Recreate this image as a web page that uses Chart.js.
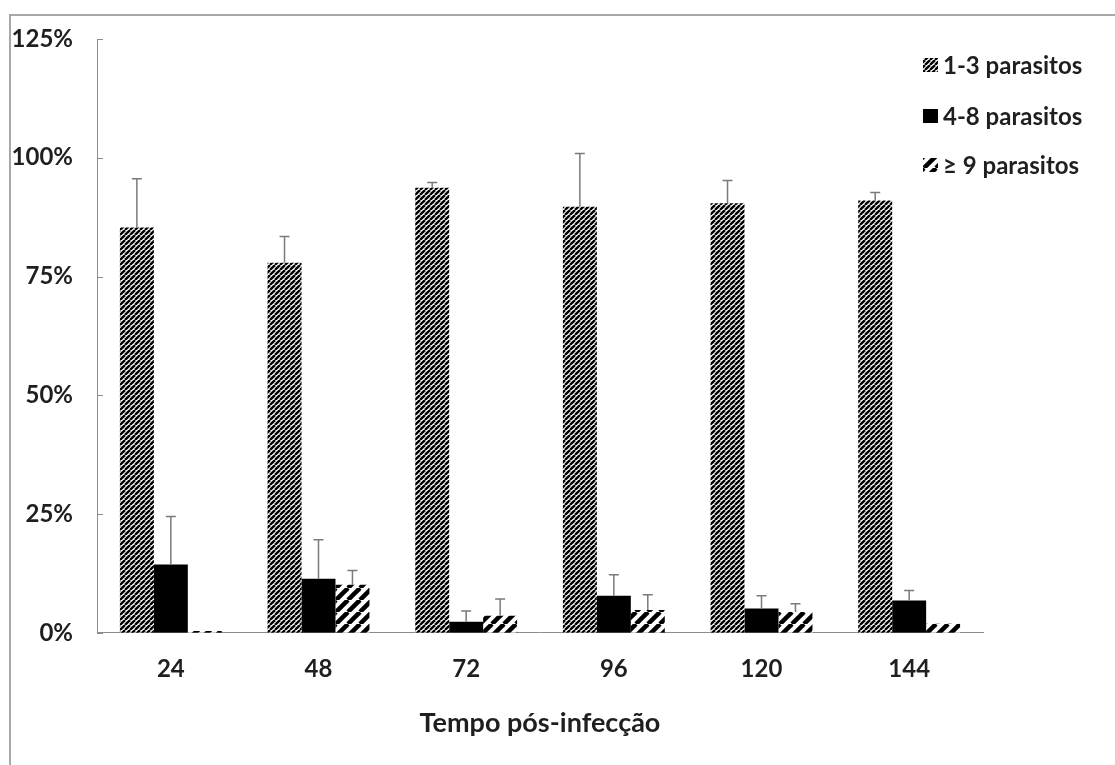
<!DOCTYPE html>
<html>
<head>
<meta charset="utf-8">
<script src="https://cdn.jsdelivr.net/npm/chart.js@4"></script>
<style>
  html, body { margin: 0; padding: 0; background: #fff; }
  #wrap { width: 1115px; height: 765px; position: relative; }
</style>
</head>
<body>
<div id="wrap"><canvas id="chart" width="1115" height="765"></canvas></div>
<script>
const hours = ['24', '48', '72', '96', '120', '144'];
const seriesLabels = ['1-3 parasitos', '4-8 parasitos', '\u2265 9 parasitos'];
const low = [85.3, 77.9, 93.7, 89.7, 90.4, 91.0];
const mid = [14.4, 11.4, 2.3, 7.8, 5.1, 6.8];
const high = [0.4, 10.1, 3.6, 4.8, 4.4, 1.9];
const lowErr = [10.3, 5.5, 1.1, 11.2, 4.8, 1.7];
const midErr = [10.1, 8.2, 2.3, 4.4, 2.7, 2.1];
const highErr = [0, 3.0, 3.5, 3.2, 1.7, 0];
const yTicks = [0, 25, 50, 75, 100, 125];

const FONT = 'Lato, "Open Sans", sans-serif';
const TEXT = '#1f1f1f';
const AXIS = '#8c8c8c';

function hatch(size, width) {
    const c = document.createElement('canvas');
    c.width = size;
    c.height = size;
    const g = c.getContext('2d');
    g.fillStyle = '#fff';
    g.fillRect(0, 0, size, size);
    g.strokeStyle = '#000';
    g.lineWidth = width;
    for (let k = -1; k <= 1; k++) {
        g.beginPath();
        g.moveTo(k * size, size);
        g.lineTo(k * size + size, 0);
        g.stroke();
    }
    return document.createElement('canvas').getContext('2d').createPattern(c, 'repeat');
}

const densePattern = hatch(5, 2.4);
const widePattern = hatch(12, 4.5);

const errors = [lowErr, midErr, highErr];

const frame = {
    id: 'frame',
    beforeDraw(chart) {
        const ctx = chart.ctx;
        ctx.save();
        ctx.strokeStyle = '#a8a8a8';
        ctx.lineWidth = 2;
        ctx.beginPath();
        ctx.moveTo(10, 765);
        ctx.lineTo(10, 15);
        ctx.lineTo(1115, 15);
        ctx.stroke();
        ctx.restore();
    }
};

const yTickMarks = {
    id: 'yTickMarks',
    afterDraw(chart) {
        const ctx = chart.ctx;
        const y = chart.scales.y;
        const left = chart.chartArea.left;
        ctx.save();
        ctx.strokeStyle = AXIS;
        ctx.lineWidth = 1;
        yTicks.forEach(v => {
            const py = Math.round(y.getPixelForValue(v)) + 0.5;
            ctx.beginPath();
            ctx.moveTo(left, py);
            ctx.lineTo(left + 6, py);
            ctx.stroke();
        });
        ctx.restore();
    }
};

const errorBars = {
    id: 'errorBars',
    afterDatasetsDraw(chart) {
        const ctx = chart.ctx;
        const y = chart.scales.y;
        ctx.save();
        ctx.strokeStyle = '#7a7a7a';
        ctx.lineWidth = 1.5;
        chart.data.datasets.forEach((ds, i) => {
            const meta = chart.getDatasetMeta(i);
            meta.data.forEach((bar, j) => {
                const e = errors[i][j];
                if (!e) return;
                const top = y.getPixelForValue(ds.data[j] + e);
                ctx.beginPath();
                ctx.moveTo(bar.x, bar.y);
                ctx.lineTo(bar.x, top);
                ctx.moveTo(bar.x - 5, top);
                ctx.lineTo(bar.x + 5, top);
                ctx.stroke();
            });
        });
        ctx.restore();
    }
};

const sideLegend = {
    id: 'sideLegend',
    afterDraw(chart) {
        const ctx = chart.ctx;
        const rows = [65, 116, 165];
        ctx.save();
        ctx.font = 'bold 24px ' + FONT;
        ctx.textBaseline = 'middle';
        ctx.fillStyle = TEXT;
        chart.data.datasets.forEach((ds, i) => {
            ctx.fillStyle = ds.backgroundColor;
            ctx.fillRect(923, rows[i] - 7, 15, 14);
            ctx.fillStyle = TEXT;
            ctx.fillText(ds.label, 943, rows[i] + 1);
        });
        ctx.restore();
    }
};

new Chart(document.getElementById('chart'), {
    type: 'bar',
    data: {
        labels: hours,
        datasets: [
            { label: seriesLabels[0], data: low, backgroundColor: densePattern },
            { label: seriesLabels[1], data: mid, backgroundColor: '#000' },
            { label: seriesLabels[2], data: high, backgroundColor: widePattern }
        ]
    },
    options: {
        responsive: false,
        animation: false,
        devicePixelRatio: 1,
        layout: { padding: { top: 39, right: 132, bottom: 26, left: 0 } },
        datasets: {
            bar: { categoryPercentage: 0.69, barPercentage: 1.0, borderWidth: 0 }
        },
        plugins: {
            legend: { display: false },
            tooltip: { enabled: false }
        },
        scales: {
            x: {
                grid: { display: false },
                border: { display: true, color: AXIS, width: 1 },
                ticks: {
                    padding: 14,
                    color: TEXT,
                    font: { family: FONT, size: 24, weight: 'bold' }
                },
                title: {
                    display: true,
                    text: 'Tempo pós-infecção',
                    color: TEXT,
                    padding: { top: 9, bottom: 0 },
                    font: { family: FONT, size: 27, weight: 'bold' }
                }
            },
            y: {
                min: 0,
                max: 125,
                afterFit(scale) { scale.width = 97; },
                afterBuildTicks(scale) { scale.ticks = yTicks.map(v => ({ value: v })); },
                grid: { display: false },
                border: { display: true, color: AXIS, width: 1 },
                ticks: {
                    padding: 16,
                    color: TEXT,
                    font: { family: FONT, size: 24, weight: 'bold' },
                    callback: v => v + '%'
                }
            }
        }
    },
    plugins: [frame, errorBars, yTickMarks, sideLegend]
});
</script>
</body>
</html>
